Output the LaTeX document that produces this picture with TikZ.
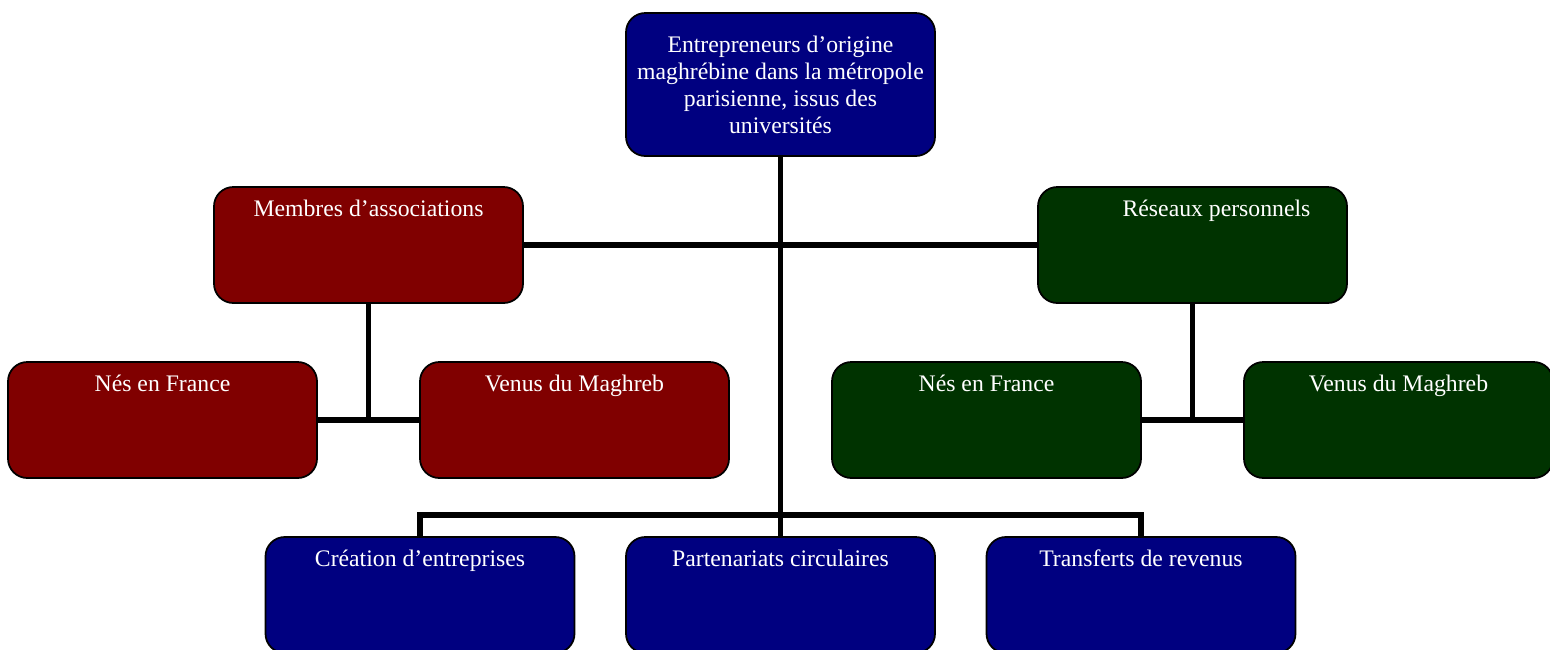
\documentclass[tikz,border=0pt]{standalone}
\usepackage{fontspec}
\setmainfont{Liberation Serif}
\usepackage{tikz}
\definecolor{navyblue}{RGB}{0,0,128}
\definecolor{darkred}{RGB}{128,0,0}
\definecolor{darkgreen}{RGB}{0,51,0}
\tikzstyle{box} = [rectangle, rounded corners=11pt, minimum width=6.18cm,
minimum height=2.32cm, inner sep=0pt, draw=black, line width=1pt]
\tikzstyle{bluebox} = [box, fill=navyblue]
\tikzstyle{redbox} = [box, fill=darkred]
\tikzstyle{greenbox} = [box, fill=darkgreen]
\tikzstyle{lbl} = [text=white, anchor=base, label distance=-0.6cm]
\tikzstyle{link} = [line width=3.2pt]

\begin{document}
\begin{tikzpicture}[node distance=8.24cm, font=\fontsize{13.5}{15.4}\selectfont]
\useasboundingbox (0,0) rectangle (31,-12.98);
\clip (0,0) rectangle (31,-12.98);

\node(top)[bluebox, minimum height=2.86cm, text=white, align=center] at (15.61,-1.69){Entrepreneurs d’origine\\maghrébine dans la métropole\\parisienne, issus des\\universités};

\node(assoc)[redbox, label={[lbl]north:Membres d’associations}] at (7.37,-4.90){};
\node(reseaux)[greenbox, label={[lbl, xshift=0.48cm]north:Réseaux personnels}] at (23.85,-4.90){};

\node(nesL)[redbox, label={[lbl]north:Nés en France}] at (3.25,-8.40){};
\node(venL)[redbox, right of=nesL, label={[lbl]north:Venus du Maghreb}]{};
\node(nesR)[greenbox, right of=venL, label={[lbl]north:Nés en France}]{};
\node(venR)[greenbox, right of=nesR, label={[lbl]north:Venus du Maghreb}]{};

\node(part)[bluebox, label={[lbl]north:Partenariats circulaires}] at (15.61,-11.90){};
\node(crea)[bluebox, node distance=7.21cm, left of=part, label={[lbl]north:Création d’entreprises}]{};
\node(trans)[bluebox, node distance=7.21cm, right of=part, label={[lbl]north:Transferts de revenus}]{};

\coordinate(bus) at (15.61,-10.30);

\draw[link](top) -- (part);
\draw[link](assoc) -- (reseaux);
\draw[link](assoc) -- (assoc |- nesL);
\draw[link](nesL) -- (venL);
\draw[link](reseaux) -- (reseaux |- nesR);
\draw[link](nesR) -- (venR);
\draw[link](crea) |- (bus) -| (trans);

\end{tikzpicture}
\end{document}
